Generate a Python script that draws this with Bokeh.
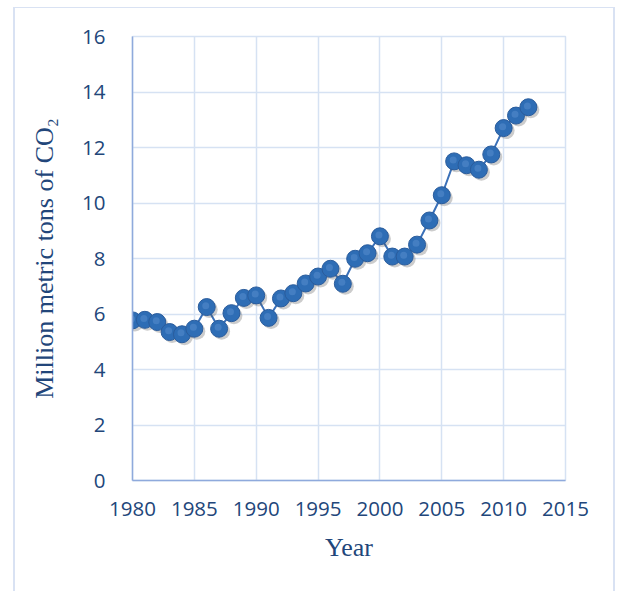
from bokeh.plotting import figure
from bokeh.models import ColumnDataSource, FixedTicker, Range1d
from bokeh.transform import dodge
from bokeh.embed import file_html
from bokeh.resources import INLINE

years = list(range(1980, 2013))
co2 = [5.77, 5.79, 5.71, 5.35, 5.27, 5.47, 6.25, 5.47, 6.03, 6.58, 6.67,
       5.86, 6.56, 6.75, 7.1, 7.35, 7.63, 7.09, 7.99, 8.19, 8.8,
       8.07, 8.07, 8.5, 9.37, 10.28, 11.5, 11.36, 11.2, 11.75, 12.7,
       13.15, 13.45]
x_ticks = [1980, 1985, 1990, 1995, 2000, 2005, 2010, 2015]
y_ticks = [0, 2, 4, 6, 8, 10, 12, 14, 16]

src = ColumnDataSource(dict(year=years, co2=co2))

grid_col = "#D6E2F3"
axis_col = "#8FAADC"
text_col = "#22467A"

p = figure(width=602, height=584, output_backend="svg", toolbar_location=None,
           x_range=Range1d(1980, 2015), y_range=Range1d(0, 16),
           min_border_left=117, min_border_right=52, min_border_top=28,
           min_border_bottom=112,
           styles={"margin-left": "13px", "margin-top": "7px",
                   "border-left": "2px solid #D9E2F3",
                   "border-top": "1px solid #D9E2F3",
                   "border-right": "2px solid #D9E2F3"})
p.outline_line_color = grid_col
p.outline_line_width = 1.5
p.border_fill_color = "white"
p.background_fill_color = "white"

p.xaxis.ticker = FixedTicker(ticks=x_ticks)
p.yaxis.ticker = FixedTicker(ticks=y_ticks)
for ax in (p.xaxis, p.yaxis):
    ax.axis_line_color = axis_col
    ax.axis_line_width = 1.5
    ax.major_tick_line_color = None
    ax.minor_tick_line_color = None
    ax.major_label_text_font = "Open Sans"
    ax.major_label_text_font_size = "20.5px"
    ax.major_label_text_color = text_col
    ax.axis_label_text_font = "Liberation Serif"
    ax.axis_label_text_font_size = "26px"
    ax.axis_label_text_font_style = "normal"
    ax.axis_label_text_color = text_col
p.yaxis.major_label_standoff = 21
p.xaxis.major_label_standoff = 15
p.xaxis.axis_label = "Year"
p.yaxis.axis_label = "Million metric tons of CO\u2082"
p.xaxis.axis_label_standoff = 14
p.yaxis.axis_label_standoff = 20

p.xgrid.grid_line_color = grid_col
p.ygrid.grid_line_color = grid_col
p.xgrid.grid_line_width = 1.5
p.ygrid.grid_line_width = 1.5

p.line("year", "co2", source=src, line_color="#3A70B8", line_width=2)
p.scatter(x=dodge("year", 0.2), y=dodge("co2", -0.09), source=src, size=17,
          fill_color="#555555", fill_alpha=0.3, line_color=None)
p.scatter("year", "co2", source=src, size=17, fill_color="#2E6DB5",
          line_color="#2A5C9C", line_width=1)
p.scatter(x=dodge("year", -0.08), y=dodge("co2", 0.05), source=src, size=7,
          fill_color="#5A8FD0", fill_alpha=0.5, line_color=None)

html = file_html(p, INLINE)
open("out.html", "w").write(html)
